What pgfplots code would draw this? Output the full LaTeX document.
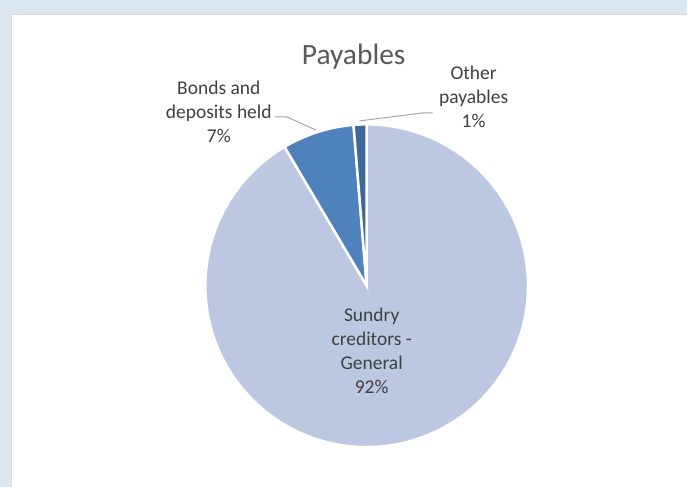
\documentclass[border=0pt]{standalone}
\usepackage{pgfplots}
\pgfplotsset{compat=1.18}
\usepackage{fontspec}
\setmainfont{Carlito}
\definecolor{bgblue}{HTML}{DCE6F1}
\definecolor{frame}{HTML}{D9D9D9}
\definecolor{cSundry}{HTML}{BCC8E1}
\definecolor{cBonds}{HTML}{4F81BD}
\definecolor{cOther}{HTML}{3D6899}
\definecolor{txt}{HTML}{595959}
\definecolor{lbl}{HTML}{404040}
\definecolor{lead}{HTML}{A6A6A6}
% shares (percent), clockwise from 12 o'clock
\def\pSundry{91.5}
\def\pBonds{7.2}
\def\pOther{1.3}
\pgfmathsetmacro\aA{3.6*\pSundry}
\pgfmathsetmacro\aB{\aA+3.6*\pBonds}
\pgfmathsetmacro\aC{\aB+3.6*\pOther}
\begin{document}
\begin{tikzpicture}
\fill[bgblue] (0,0) rectangle (688bp,487bp);
\fill[white] (12bp,0) rectangle (688bp,472bp);
\draw[frame, line width=1.2bp] (11.4bp,0) -- (11.4bp,472.6bp) -- (688bp,472.6bp);
\begin{axis}[at={(0,0)}, anchor=south west, scale only axis,
  width=688bp, height=487bp, xmin=0, xmax=688, ymin=0, ymax=487,
  y dir=reverse, axis lines=none, clip=false]
\addplot[fill=cSundry, draw=white, line width=2.5bp, domain=0:\aA, samples=200]
  ({367+161.5*sin(x)},{286-161.5*cos(x)}) -- (axis cs:367,286) -- cycle;
\addplot[fill=cBonds, draw=white, line width=2.5bp, domain=\aA:\aB, samples=40]
  ({367+161.5*sin(x)},{286-161.5*cos(x)}) -- (axis cs:367,286) -- cycle;
\addplot[fill=cOther, draw=white, line width=2.5bp, domain=\aB:\aC, samples=20]
  ({367+161.5*sin(x)},{286-161.5*cos(x)}) -- (axis cs:367,286) -- cycle;
% leader lines
\draw[lead, line width=1bp] (axis cs:275,117) -- (axis cs:287,117) -- (axis cs:316,130);
\draw[lead, line width=1bp] (axis cs:360,121) -- (axis cs:423,113) -- (axis cs:433,113);
% labels
\node[txt, font=\fontsize{29.5bp}{34bp}\selectfont] at (axis cs:354,57) {Payables};
\node[lbl, align=center, font=\fontsize{19.5bp}{24bp}\selectfont] at (axis cs:219,112) {Bonds and\\deposits held\\7\%};
\node[lbl, align=center, font=\fontsize{19.5bp}{24bp}\selectfont] at (axis cs:474,97) {Other\\payables\\1\%};
\node[lbl, align=center, font=\fontsize{19.5bp}{24bp}\selectfont] at (axis cs:372,351) {Sundry\\creditors -\\General\\92\%};
\end{axis}
\end{tikzpicture}
\end{document}
